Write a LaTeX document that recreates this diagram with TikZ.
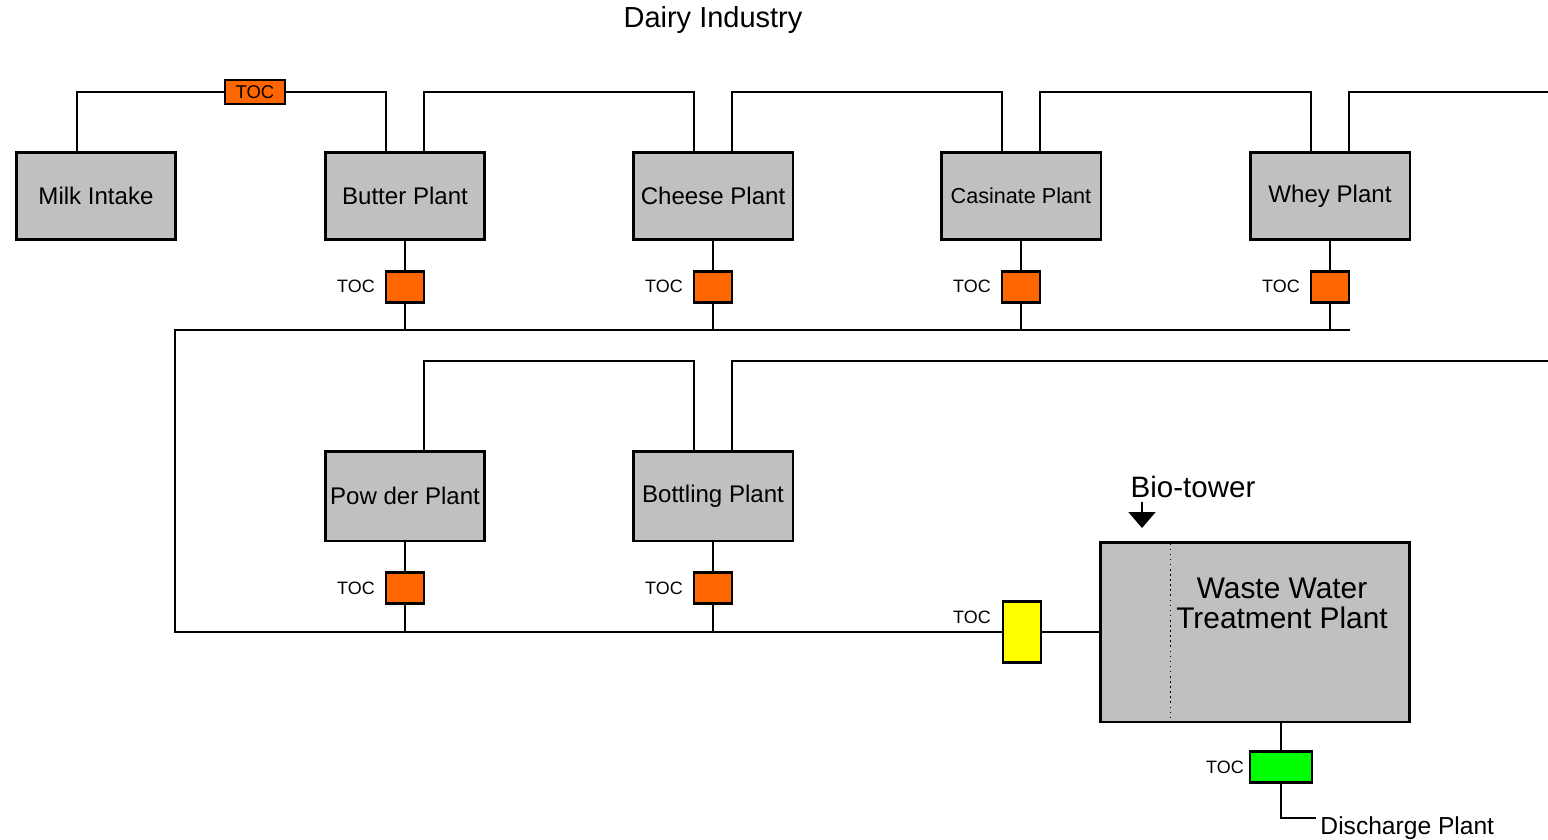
\documentclass[tikz,border=0pt]{standalone}
\usepackage{fontspec}
\setmainfont{Liberation Sans}
\usetikzlibrary{positioning, arrows.meta}
\definecolor{boxgray}{HTML}{C0C0C0}
\definecolor{tocorange}{HTML}{FF6600}
\definecolor{tocyellow}{HTML}{FFFF00}
\definecolor{tocgreen}{HTML}{00FF00}

\begin{document}
\begin{tikzpicture}[x=0.02cm, y=-0.02cm, line width=1.1pt,
        plant/.style={draw, line width=1.7pt, fill=boxgray, inner sep=0pt,
            minimum width=3.2cm, minimum height=1.74cm,
            font=\fontsize{13.7}{16}\selectfont},
        toc/.style={draw, line width=1.5pt, fill=tocorange, inner sep=0pt,
            minimum width=0.76cm, minimum height=0.62cm},
        toclbl/.style={font=\fontsize{10.2}{12}\selectfont, inner sep=0pt, xshift=-0.18cm},
        drop/.style={line width=0.9pt}]
    \useasboundingbox (0,0) rectangle (1548,839);
    \node (title) at (713,20) {\fontsize{16.5}{18}\selectfont Dairy Industry};
    % plants
    \node[plant] (milk) at (96,196) {Milk Intake};
    \node[plant] (butter) at (405,196) {Butter Plant};
    \node[plant] (cheese) at (713,196) {Cheese Plant};
    \node[plant, font=\fontsize{12.3}{14}\selectfont] (casin) at (1021,196) {Casinate Plant};
    \node[plant] (whey) at (1330,196) {Whey Plant};
    \node[plant, minimum height=1.8cm] (powder) at (405,496) {Pow der Plant};
    \node[plant, minimum height=1.8cm] (bottl) at (713,496) {Bottling Plant};
    \node[plant, minimum width=6.2cm, minimum height=3.6cm] (wwtp) at (1255,632) {};
    \node[font=\fontsize{17}{17}\selectfont, align=center] (wwtxt) at (1282,603) {Waste Water\\Treatment Plant};
    \draw[line width=0.9pt, dotted] ([xshift=1.44cm,yshift=-0.06cm]wwtp.north west) -- ([xshift=1.44cm,yshift=0.06cm]wwtp.south west);
    % TOC meters
    \node[toc, minimum width=1.2cm, minimum height=0.48cm, font=\fontsize{10.5}{12}\selectfont] (toc0) at (255,92) {TOC};
    \node[toc, below=0.58cm of butter, label={[toclbl]left:TOC}] (tocb) {};
    \node[toc, below=0.58cm of cheese, label={[toclbl]left:TOC}] (tocc) {};
    \node[toc, below=0.58cm of casin, label={[toclbl]left:TOC}] (tocs) {};
    \node[toc, below=0.58cm of whey, label={[toclbl]left:TOC}] (tocw) {};
    \node[toc, below=0.58cm of powder, label={[toclbl]left:TOC}] (tocp) {};
    \node[toc, below=0.58cm of bottl, label={[toclbl]left:TOC}] (toct) {};
    \node[toc, fill=tocyellow, minimum height=1.22cm, label={[toclbl, xshift=-0.02cm, yshift=0.3cm]left:TOC}] (tocy) at (1022,632) {};
    \node[toc, fill=tocgreen, minimum width=1.24cm, label={[toclbl, xshift=0.1cm]left:TOC}] (tocg) at (1281,767) {};
    % labels
    \node[font=\fontsize{16.8}{18}\selectfont] (bio) at (1193,487) {Bio-tower};
    \node[anchor=base west, font=\fontsize{14}{16}\selectfont, inner sep=2pt] (dis) at (1316,834) {Discharge Plant};
    % riser points
    \coordinate (milkR) at ([xshift=-0.38cm]milk.north);
    \coordinate (butL) at ([xshift=-0.38cm]butter.north);
    \coordinate (butR) at ([xshift=0.38cm]butter.north);
    \coordinate (cheL) at ([xshift=-0.38cm]cheese.north);
    \coordinate (cheR) at ([xshift=0.38cm]cheese.north);
    \coordinate (casL) at ([xshift=-0.38cm]casin.north);
    \coordinate (casR) at ([xshift=0.38cm]casin.north);
    \coordinate (whyL) at ([xshift=-0.38cm]whey.north);
    \coordinate (whyR) at ([xshift=0.38cm]whey.north);
    \coordinate (powR) at ([xshift=0.38cm]powder.north);
    \coordinate (botL) at ([xshift=-0.38cm]bottl.north);
    \coordinate (botR) at ([xshift=0.38cm]bottl.north);
    \coordinate (topE) at (1548,92);
    \coordinate (midE) at (1548,361);
    \coordinate (busW) at (175,330);
    \coordinate (busE) at (1350,330);
    \coordinate (busS) at (175,632);
    \coordinate (bioTip) at (1142,528);
    % supply lines
    \draw (milkR) |- (toc0.west);
    \draw (toc0.east) -| (butL);
    \draw (butR) |- (toc0 -| cheL) -- (cheL);
    \draw (cheR) |- (toc0 -| casL) -- (casL);
    \draw (casR) |- (toc0 -| whyL) -- (whyL);
    \draw (whyR) |- (topE);
    \draw (powR) |- (midE -| botL) -- (botL);
    \draw (botR) |- (midE);
    % drains
    \draw[drop] (butter) -- (tocb);
    \draw[drop] (tocb) -- (tocb |- busW);
    \draw[drop] (cheese) -- (tocc);
    \draw[drop] (tocc) -- (tocc |- busW);
    \draw[drop] (casin) -- (tocs);
    \draw[drop] (tocs) -- (tocs |- busW);
    \draw[drop] (whey) -- (tocw);
    \draw[drop] (tocw) -- (tocw |- busW);
    \draw[drop] (powder) -- (tocp);
    \draw[drop] (tocp) -- (tocp |- busS);
    \draw[drop] (bottl) -- (toct);
    \draw[drop] (toct) -- (toct |- busS);
    \draw (busE) -- (busW) -- (busS) -- (tocy);
    \draw (tocy) -- (wwtp);
    \draw (wwtp.south -| tocg) -- (tocg);
    \draw (tocg.south) |- ([yshift=0.2cm]dis.west);
    \draw[-{Triangle[width=0.54cm, length=0.32cm]}] ([yshift=0.06cm]bio.south -| bioTip) -- (bioTip);
\end{tikzpicture}
\end{document}
